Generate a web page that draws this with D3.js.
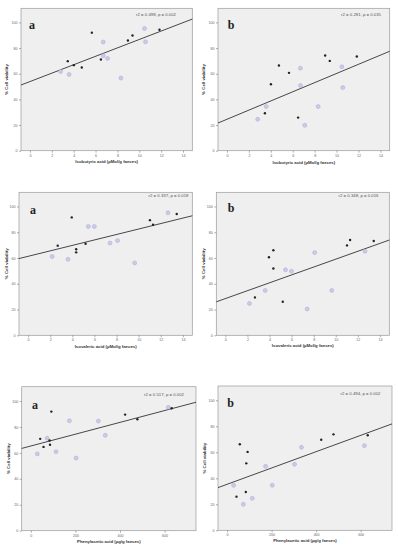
<!DOCTYPE html>
<html><head><meta charset="utf-8">
<script src="https://cdn.jsdelivr.net/npm/d3@7"></script>
<style>body{margin:0;background:#fff}svg{display:block}</style>
</head><body>
<svg id="c" width="398" height="550"></svg>
<script>
// ---------- data ----------
const xIsobutyricBlack = [3.46, 4.01, 4.74, 5.66, 6.49, 8.96, 9.38, 11.85];
const xIsobutyricGrey  = [2.8, 3.58, 6.7, 6.71, 7.1, 8.32, 10.48, 10.57];
const yIsobutyricA_Black = [69.8, 66.7, 64.8, 92, 71.1, 85.9, 89.8, 94.3];
const yIsobutyricA_Grey  = [61.7, 59.4, 84.7, 74, 71.9, 56.6, 95.3, 84.9];
const yIsobutyricB_Black = [29.2, 51.8, 66.4, 60.7, 25.8, 74.2, 70, 73.4];
const yIsobutyricB_Grey  = [24.5, 34.4, 64.3, 50.8, 19.8, 34.4, 65.4, 49.2];

const xIsovalericBlack = [2.68, 3.95, 4.35, 4.35, 5.2, 11.02, 11.3, 13.44];
const xIsovalericGrey  = [2.18, 3.61, 5.45, 5.99, 7.41, 8.09, 9.64, 12.65];
const yIsovalericA_Black = [69.6, 91.5, 66.8, 64.4, 71.1, 89.4, 85.8, 94.1];
const yIsovalericA_Grey  = [61.1, 59, 84.5, 84.5, 71.6, 73.5, 56.2, 95.1];
const yIsovalericB_Black = [29.4, 60.6, 66, 51.8, 26, 69.8, 74, 73.2];
const yIsovalericB_Grey  = [24.7, 34.8, 50.8, 49.7, 20.4, 64.2, 34.8, 65.2];

const xPhenylBlack = [42, 57, 84, 86, 92, 423, 478, 632];
const xPhenylGrey  = [29, 73, 113, 173, 203, 303, 334, 617];
const yPhenylA_Black = [70.8, 64.6, 69.5, 66.2, 91.8, 89.5, 85.9, 94.4];
const yPhenylA_Grey  = [59.2, 71.3, 60.9, 84.7, 56, 84.5, 73.5, 95.1];
const yPhenylB_Black = [25.9, 66.2, 29.5, 51.5, 60.3, 69.7, 73.8, 73.1];
const yPhenylB_Grey  = [34.6, 20, 24.6, 49.2, 34.6, 50.8, 63.8, 65.1];

// fitted lines [intercept, slope]
const fitIsobutyricA = [53.9, 3.28];
const fitIsobutyricB = [24.5, 3.57];
const fitIsovalericA = [61.3, 2.12];
const fitIsovalericB = [28.5, 3.06];
const fitPhenylA = [65.3, 0.0455];
const fitPhenylB = [35.4, 0.0627];

const statLabels = ["r2 = 0.498, p = 0.002", "r2 = 0.281, p = 0.035",
                    "r2 = 0.337, p = 0.018", "r2 = 0.348, p = 0.016",
                    "r2 = 0.517, p = 0.002", "r2 = 0.494, p = 0.002"];
const panelLetters = ["a", "b", "a", "b", "a", "b"];
const xTitles = ["Isobutyric acid (µMol/g faeces)", "Isovaleric acid (µMol/g faeces)", "Phenylacetic acid (µg/g faeces)"];
const yTitle = "% Cell viability";
const xTicksAcid = [0, 2, 4, 6, 8, 10, 12, 14];
const xTicksPhenyl = [0, 200, 400, 600];
const yTicks = [0, 20, 40, 60, 80, 100];

// ---------- layout ----------
const panels = [
  {l:21, r:192.3, t:8.3, b:150.7, row:0, xb:xIsobutyricBlack, xg:xIsobutyricGrey, yb:yIsobutyricA_Black, yg:yIsobutyricA_Grey, fit:fitIsobutyricA, let:[32,28.5], st:[176,16], xt:163, yt:8.3},
  {l:218, r:389.7, t:8.3, b:150.7, row:0, xb:xIsobutyricBlack, xg:xIsobutyricGrey, yb:yIsobutyricB_Black, yg:yIsobutyricB_Grey, fit:fitIsobutyricB, let:[231,29], st:[381,15.5], xt:163.5, yt:205.3},
  {l:19, r:192.3, t:192.3, b:335.3, row:1, xb:xIsovalericBlack, xg:xIsovalericGrey, yb:yIsovalericA_Black, yg:yIsovalericA_Grey, fit:fitIsovalericA, let:[33,214], st:[188.5,197.3], xt:348, yt:7.5},
  {l:216.3, r:389.3, t:192.3, b:335.3, row:1, xb:xIsovalericBlack, xg:xIsovalericGrey, yb:yIsovalericB_Black, yg:yIsovalericB_Grey, fit:fitIsovalericB, let:[231,211.5], st:[378.5,197], xt:347, yt:204.7},
  {l:21.7, r:196, t:386.7, b:530.7, row:2, xb:xPhenylBlack, xg:xPhenylGrey, yb:yPhenylA_Black, yg:yPhenylA_Grey, fit:fitPhenylA, let:[35,409], st:[184,395.5], xt:543, yt:10},
  {l:218, r:392, t:386, b:530.3, row:2, xb:xPhenylBlack, xg:xPhenylGrey, yb:yPhenylB_Black, yg:yPhenylB_Grey, fit:fitPhenylB, let:[230.5,406.5], st:[380.5,395], xt:542, yt:206.3}
];
const xDomains = [[-0.82, 14.85], [-0.82, 14.85], [-41, 741]];
const xTickSets = [xTicksAcid, xTicksAcid, xTicksPhenyl];

const svg = d3.select("#c");
const sans = "'Liberation Sans', Arial, sans-serif";

panels.forEach((p, i) => {
  const x = d3.scaleLinear().domain(xDomains[p.row]).range([p.l, p.r]);
  const y = d3.scaleLinear().domain([0, 111]).range([p.b, p.t]);
  const g = svg.append("g");

  g.append("rect").attr("x", p.l).attr("y", p.t).attr("width", p.r - p.l).attr("height", p.b - p.t)
    .attr("fill", "#efefef").attr("stroke", "#9a9a9a").attr("stroke-width", 0.7);

  // axes
  const xAxis = d3.axisBottom(x).tickValues(xTickSets[p.row]).tickSize(2).tickPadding(1.5).tickFormat(d3.format("d"));
  const yAxis = d3.axisLeft(y).tickValues(yTicks).tickSize(2).tickPadding(1.5).tickFormat(d3.format("d"));
  const gx = g.append("g").attr("transform", `translate(0,${p.b})`).call(xAxis);
  const gy = g.append("g").attr("transform", `translate(${p.l},0)`).call(yAxis);
  [gx, gy].forEach(a => {
    a.select(".domain").remove();
    a.selectAll(".tick line").attr("stroke", "#777").attr("stroke-width", 0.6);
    a.selectAll(".tick text").attr("font-family", sans).attr("font-size", 3.6).attr("fill", "#666");
  });

  // fit line
  const [b0, b1] = p.fit;
  const xd = x.domain();
  g.append("line").attr("x1", x(xd[0])).attr("y1", y(b0 + b1 * xd[0]))
    .attr("x2", x(xd[1])).attr("y2", y(b0 + b1 * xd[1]))
    .attr("stroke", "#333").attr("stroke-width", 0.9);

  // points
  g.selectAll(".pg").data(p.xg.map((v, k) => [v, p.yg[k]])).join("circle")
    .attr("cx", d => x(d[0])).attr("cy", d => y(d[1])).attr("r", 2)
    .attr("fill", "#cbcbe8").attr("stroke", "#a9a9d6").attr("stroke-width", 0.5);
  g.selectAll(".pb").data(p.xb.map((v, k) => [v, p.yb[k]])).join("circle")
    .attr("cx", d => x(d[0])).attr("cy", d => y(d[1])).attr("r", 1.2)
    .attr("fill", "#222");

  // texts
  g.append("text").attr("x", p.st[0]).attr("y", p.st[1]).attr("text-anchor", "end")
    .attr("font-family", sans).attr("font-size", 4.3).attr("fill", "#555").text(statLabels[i]);
  g.append("text").attr("x", p.let[0]).attr("y", p.let[1]).attr("text-anchor", "middle")
    .attr("font-family", "'Liberation Serif', 'Times New Roman', serif").attr("font-weight", "bold")
    .attr("font-size", 12).attr("fill", "#222").text(panelLetters[i]);
  g.append("text").attr("x", (p.l + p.r) / 2).attr("y", p.xt).attr("text-anchor", "middle")
    .attr("font-family", sans).attr("font-weight", "bold").attr("font-size", 4.3).attr("fill", "#333")
    .text(xTitles[p.row]);
  g.append("text").attr("transform", `translate(${p.yt},${(p.t + p.b) / 2}) rotate(-90)`)
    .attr("text-anchor", "middle").attr("font-family", sans).attr("font-weight", "bold")
    .attr("font-size", 4.4).attr("fill", "#333").text(yTitle);
});
</script>
</body></html>
